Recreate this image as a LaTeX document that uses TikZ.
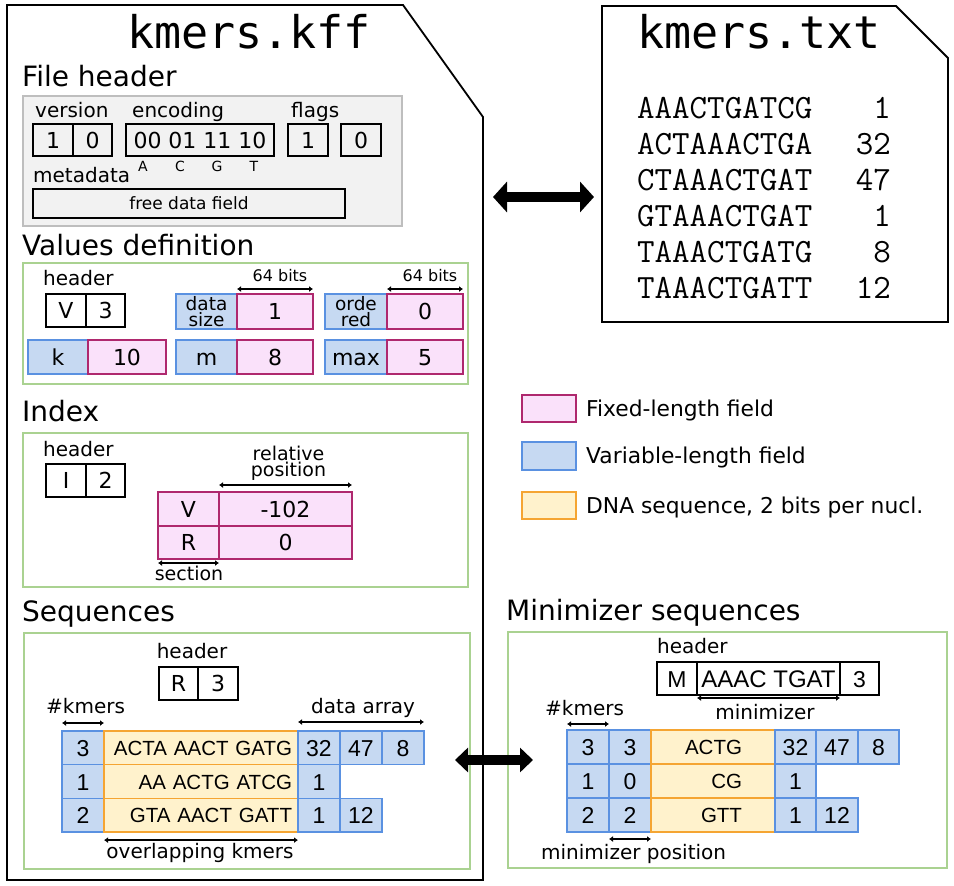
\documentclass[tikz,border=0pt]{standalone}
\usepackage{fontspec}
\setmainfont{DejaVu Sans}
\newfontfamily\namefont{DejaVu Sans Mono}
\newfontfamily\basefont{Liberation Sans}
\usepackage{tikz}
\usetikzlibrary{positioning,arrows.meta}

\definecolor{fixfill}{RGB}{250,225,250}
\definecolor{fixline}{RGB}{175,40,110}
\definecolor{varfill}{RGB}{198,217,242}
\definecolor{varline}{RGB}{90,145,225}
\definecolor{dnafill}{RGB}{255,242,204}
\definecolor{dnaline}{RGB}{245,165,50}
\definecolor{grpline}{RGB}{170,210,145}
\definecolor{bgfill}{RGB}{242,242,242}
\definecolor{bgline}{RGB}{190,190,190}

\tikzset{
  file/.style={draw, line width=1.8pt},
  filename/.style={anchor=base west, inner sep=0pt, font=\namefont\fontsize{45}{50}\selectfont},
  sectitle/.style={anchor=base west, inner sep=0pt, font=\fontsize{28}{32}\selectfont},
  lbl/.style={anchor=base west, inner sep=0pt, font=\fontsize{20}{22}\selectfont},
  group/.style={draw=grpline, line width=2pt},
  headerbg/.style={draw=bgline, fill=bgfill, line width=1.5pt},
  plain/.style={draw, line width=1.3pt, inner sep=0pt, outer sep=0pt, minimum height=33pt,
    text height=16pt, text depth=0pt, font=\fontsize{22}{24}\selectfont},
  fixed/.style={plain, draw=fixline, fill=fixfill},
  varlen/.style={plain, draw=varline, fill=varfill},
  dna/.style={plain, draw=dnaline, fill=dnafill},
  seq/.style={text height=17pt, font=\basefont\fontsize{23}{25}\selectfont},
  dnaseq/.style={text height=15pt, font=\basefont\fontsize{20.5}{23}\selectfont},
  legtext/.style={inner sep=0pt, text height=15pt, text depth=0pt, font=\fontsize{21.8}{24}\selectfont},
  dimline/.style={line width=2pt, {Latex[length=4pt,width=6pt]}-{Latex[length=4pt,width=6pt]}},
  fat/.style={line width=10pt, arrows={Triangle[length=14pt,width=30pt]-Triangle[length=14pt,width=30pt]}}
}

\begin{document}
\begin{tikzpicture}[x=1pt, y=-1pt, node distance=0pt]
\useasboundingbox (0,0) rectangle (954,886);

% kmers.kff
\draw[file] (7,5) -- (403,5) -- (483,117) -- (483,880) -- (7,880) -- cycle;
\node[filename] (kffname) at (127,48) {kmers.kff};

% file header
\node[sectitle] (hdrtitle) at (22,86) {File header};
\draw[headerbg] (23,96) rectangle (402,226);
\node[lbl] (verlbl) at (35,117) {version};
\node[lbl] (enclbl) at (132,117) {encoding};
\node[lbl] (flaglbl) at (291,117) {flags};
\node[plain, minimum width=40pt, minimum height=32pt, anchor=north west] (ver1) at (33,124) {1};
\node[plain, minimum width=39pt, minimum height=32pt, right=of ver1] (ver2) {0};
\node[plain, minimum width=148pt, minimum height=32pt, anchor=north west] (enc) at (126,124) {00 01 11 10};
\node[plain, minimum width=40pt, minimum height=32pt, anchor=north west] (flag1) at (288,124) {1};
\node[plain, minimum width=40pt, minimum height=32pt, anchor=north west] (flag2) at (341,124) {0};
\node[anchor=base, inner sep=0pt, font=\fontsize{14}{15}\selectfont] (encA) at (143,171) {A};
\node[anchor=base, inner sep=0pt, font=\fontsize{14}{15}\selectfont] (encC) at (180,171) {C};
\node[anchor=base, inner sep=0pt, font=\fontsize{14}{15}\selectfont] (encG) at (217,171) {G};
\node[anchor=base, inner sep=0pt, font=\fontsize{14}{15}\selectfont] (encT) at (254,171) {T};
\node[lbl] (metalbl) at (33,182) {metadata};
\node[plain, minimum width=312pt, minimum height=29pt, text height=12pt, anchor=north west,
  font=\fontsize{17}{19}\selectfont] (meta) at (33,189) {free data field};

% values definition
\node[sectitle] (valtitle) at (22,255) {Values definition};
\draw[group] (23,263) rectangle (468,384);
\node[lbl] (valhdr) at (43,285) {header};
\node[plain, minimum width=40pt, anchor=north west] (valv) at (46,294) {V};
\node[plain, minimum width=39pt, right=of valv] (valn) {3};
\node[varlen, minimum width=61pt, minimum height=35pt, anchor=north west, align=center,
  text height={}, text depth={}, font=\fontsize{18.5}{15.5}\selectfont] (dsname) at (176,294) {data\\size};
\node[fixed, minimum width=76pt, minimum height=35pt, right=of dsname] (dsval) {1};
\node[varlen, minimum width=62pt, minimum height=35pt, anchor=north west, align=center,
  text height={}, text depth={}, font=\fontsize{18.5}{15.5}\selectfont] (ordname) at (325,294) {orde\\red};
\node[fixed, minimum width=76pt, minimum height=35pt, right=of ordname] (ordval) {0};
\node[varlen, minimum width=60pt, minimum height=34pt, anchor=north west] (kname) at (28,340) {k};
\node[fixed, minimum width=78pt, minimum height=34pt, right=of kname] (kval) {10};
\node[varlen, minimum width=61pt, minimum height=34pt, anchor=north west] (mname) at (176,340) {m};
\node[fixed, minimum width=76pt, minimum height=34pt, right=of mname] (mval) {8};
\node[varlen, minimum width=62pt, minimum height=34pt, anchor=north west] (maxname) at (325,340) {max};
\node[fixed, minimum width=76pt, minimum height=34pt, right=of maxname] (maxval) {5};
\draw[dimline] ([yshift=5pt]dsval.north west) -- ([yshift=5pt]dsval.north east);
\draw[dimline] ([yshift=5pt]ordval.north west) -- ([yshift=5pt]ordval.north east);
\node[anchor=base, inner sep=0pt, font=\fontsize{16}{18}\selectfont] (dsbits) at (280,281) {64 bits};
\node[anchor=base, inner sep=0pt, font=\fontsize{16}{18}\selectfont] (ordbits) at (430,281) {64 bits};

% index
\node[sectitle] (idxtitle) at (22,421) {Index};
\draw[group] (23,433) rectangle (468,587);
\node[lbl] (idxhdr) at (43,456) {header};
\node[plain, minimum width=40pt, anchor=north west] (idxi) at (46,464) {I};
\node[plain, minimum width=39pt, right=of idxi] (idxn) {2};
\node[fixed, minimum width=61pt, minimum height=34pt, anchor=north west] (secv) at (158,492) {V};
\node[fixed, minimum width=133pt, minimum height=34pt, right=of secv] (posv) {-102};
\node[fixed, minimum width=61pt, minimum height=33pt, below=of secv] (secr) {R};
\node[fixed, minimum width=133pt, minimum height=33pt, right=of secr] (posr) {0};
\draw[dimline] ([yshift=7pt]posv.north west) -- ([yshift=7pt]posv.north east);
\draw[dimline] ([yshift=-4pt]secr.south west) -- ([yshift=-4pt]secr.south east);
\node[anchor=south, inner sep=0pt, align=center, font=\fontsize{19}{16}\selectfont] (poslbl)
  at ([xshift=3pt, yshift=11pt]posv.north) {relative\\position};
\node[anchor=base, inner sep=0pt, font=\fontsize{19}{21}\selectfont] (seclbl) at (189,580) {section};

% sequences
\node[sectitle] (seqtitle) at (22,621) {Sequences};
\draw[group] (24,633) rectangle (470,869);
\node[lbl, anchor=base] (seqhdr) at (192,658) {header};
\node[plain, minimum width=39pt, anchor=north west] (seqr) at (159,667) {R};
\node[plain, minimum width=40pt, right=of seqr] (seqn) {3};
\node[varlen, seq, minimum width=42pt, minimum height=33.7pt, anchor=north west] (k1) at (62,731) {3};
\node[dna, dnaseq, minimum width=194pt, minimum height=33.7pt, text width=182pt, align=right, right=of k1] (s1) {ACTA AACT GATG};
\node[varlen, seq, minimum width=42pt, minimum height=33.7pt, right=of s1] (c11) {32};
\node[varlen, seq, minimum width=42pt, minimum height=33.7pt, right=of c11] (c12) {47};
\node[varlen, seq, minimum width=42pt, minimum height=33.7pt, right=of c12] (c13) {8};
\node[varlen, seq, minimum width=42pt, minimum height=33.7pt, below=of k1] (k2) {1};
\node[dna, dnaseq, minimum width=194pt, minimum height=33.7pt, text width=182pt, align=right, right=of k2] (s2) {AA ACTG ATCG};
\node[varlen, seq, minimum width=42pt, minimum height=33.7pt, right=of s2] (c21) {1};
\node[varlen, seq, minimum width=42pt, minimum height=33.7pt, below=of k2] (k3) {2};
\node[dna, dnaseq, minimum width=194pt, minimum height=33.7pt, text width=182pt, align=right, right=of k3] (s3) {GTA AACT GATT};
\node[varlen, seq, minimum width=42pt, minimum height=33.7pt, right=of s3] (c31) {1};
\node[varlen, seq, minimum width=42pt, minimum height=33.7pt, right=of c31] (c32) {12};
\draw[dimline] ([yshift=8pt]k1.north west) -- ([yshift=8pt]k1.north east);
\draw[dimline] ([yshift=9pt]c11.north west) -- ([yshift=9pt]c13.north east);
\draw[dimline] ([yshift=-8pt]s3.south west) -- ([yshift=-8pt]s3.south east);
\node[lbl] (seqcount) at (46,713) {\#kmers};
\node[lbl] (seqdata) at (311,713) {data array};
\node[lbl, anchor=base] (seqover) at (200,858) {overlapping kmers};

% minimizer sequences
\node[sectitle] (mintitle) at (506,620) {Minimizer sequences};
\draw[group] (508,632) rectangle (947,868);
\node[lbl] (minhdr) at (657,653) {header};
\node[plain, seq, minimum width=40pt, anchor=north west] (minm) at (657,662) {M};
\node[plain, seq, minimum width=143pt, right=of minm, font=\basefont\fontsize{24}{26}\selectfont] (minmer) {AAAC TGAT};
\node[plain, seq, minimum width=39pt, right=of minmer] (minn) {3};
\node[varlen, seq, minimum width=42pt, minimum height=34pt, anchor=north west] (mk1) at (567,730) {3};
\node[varlen, seq, minimum width=42pt, minimum height=34pt, right=of mk1] (mp1) {3};
\node[dna, dnaseq, minimum width=124pt, minimum height=34pt, text width=58pt, align=right, right=of mp1] (ms1) {ACTG};
\node[varlen, seq, minimum width=41pt, minimum height=34pt, right=of ms1] (mc11) {32};
\node[varlen, seq, minimum width=42pt, minimum height=34pt, right=of mc11] (mc12) {47};
\node[varlen, seq, minimum width=41pt, minimum height=34pt, right=of mc12] (mc13) {8};
\node[varlen, seq, minimum width=42pt, minimum height=34pt, below=of mk1] (mk2) {1};
\node[varlen, seq, minimum width=42pt, minimum height=34pt, right=of mk2] (mp2) {0};
\node[dna, dnaseq, minimum width=124pt, minimum height=34pt, text width=58pt, align=right, right=of mp2] (ms2) {CG};
\node[varlen, seq, minimum width=41pt, minimum height=34pt, right=of ms2] (mc21) {1};
\node[varlen, seq, minimum width=42pt, minimum height=34pt, below=of mk2] (mk3) {2};
\node[varlen, seq, minimum width=42pt, minimum height=34pt, right=of mk3] (mp3) {2};
\node[dna, dnaseq, minimum width=124pt, minimum height=34pt, text width=58pt, align=right, right=of mp3] (ms3) {GTT};
\node[varlen, seq, minimum width=41pt, minimum height=34pt, right=of ms3] (mc31) {1};
\node[varlen, seq, minimum width=42pt, minimum height=34pt, right=of mc31] (mc32) {12};
\draw[dimline] ([yshift=-3pt]minmer.south west) -- ([yshift=-3pt]minmer.south east);
\draw[dimline] ([yshift=6pt]mk1.north west) -- ([yshift=6pt]mk1.north east);
\draw[dimline] ([yshift=-7pt]mp3.south west) -- ([yshift=-7pt]mp3.south east);
\node[lbl, anchor=base] (minlbl) at (765,719) {minimizer};
\node[lbl] (mincount) at (545,715) {\#kmers};
\node[lbl] (minpos) at (541,859) {minimizer position};

% kmers.txt
\draw[file] (602,6) -- (896,6) -- (948,58) -- (948,322) -- (602,322) -- cycle;
\node[filename] (txtname) at (637,48) {kmers.txt};
\node[anchor=base west, inner sep=0pt, font=\ttfamily\fontsize{34}{36}\selectfont] (t1) at (637,118) {AAACTGATCG};
\node[anchor=base west, inner sep=0pt, font=\ttfamily\fontsize{34}{36}\selectfont] (t2) at (637,154) {ACTAAACTGA};
\node[anchor=base west, inner sep=0pt, font=\ttfamily\fontsize{34}{36}\selectfont] (t3) at (637,190) {CTAAACTGAT};
\node[anchor=base west, inner sep=0pt, font=\ttfamily\fontsize{34}{36}\selectfont] (t4) at (637,226) {GTAAACTGAT};
\node[anchor=base west, inner sep=0pt, font=\ttfamily\fontsize{34}{36}\selectfont] (t5) at (637,262) {TAAACTGATG};
\node[anchor=base west, inner sep=0pt, font=\ttfamily\fontsize{34}{36}\selectfont] (t6) at (637,298) {TAAACTGATT};
\node[anchor=base east, inner sep=0pt, font=\ttfamily\fontsize{34}{36}\selectfont] (n1) at (891,118) {1};
\node[anchor=base east, inner sep=0pt, font=\ttfamily\fontsize{34}{36}\selectfont] (n2) at (891,154) {32};
\node[anchor=base east, inner sep=0pt, font=\ttfamily\fontsize{34}{36}\selectfont] (n3) at (891,190) {47};
\node[anchor=base east, inner sep=0pt, font=\ttfamily\fontsize{34}{36}\selectfont] (n4) at (891,226) {1};
\node[anchor=base east, inner sep=0pt, font=\ttfamily\fontsize{34}{36}\selectfont] (n5) at (891,262) {8};
\node[anchor=base east, inner sep=0pt, font=\ttfamily\fontsize{34}{36}\selectfont] (n6) at (891,298) {12};

% legend
\node[fixed, minimum width=54pt, minimum height=27pt, anchor=north west] (legfix) at (522,395) {};
\node[legtext, right=10pt of legfix] (legfixtxt) {Fixed-length field};
\node[varlen, minimum width=54pt, minimum height=28pt, anchor=north west] (legvar) at (522,442) {};
\node[legtext, right=10pt of legvar] (legvartxt) {Variable-length field};
\node[dna, minimum width=54pt, minimum height=27pt, anchor=north west] (legdna) at (522,492) {};
\node[legtext, right=10pt of legdna] (legdnatxt) {DNA sequence, 2 bits per nucl.};

% arrows
\coordinate (kffside) at (493,197);
\coordinate (txtside) at (594,197);
\coordinate (seqside) at (455,760);
\coordinate (minside) at (533,760);
\draw[fat] (kffside) -- (txtside);
\draw[fat, arrows={Triangle[length=13pt,width=24pt]-Triangle[length=13pt,width=24pt]}] (seqside) -- (minside);
\end{tikzpicture}
\end{document}
